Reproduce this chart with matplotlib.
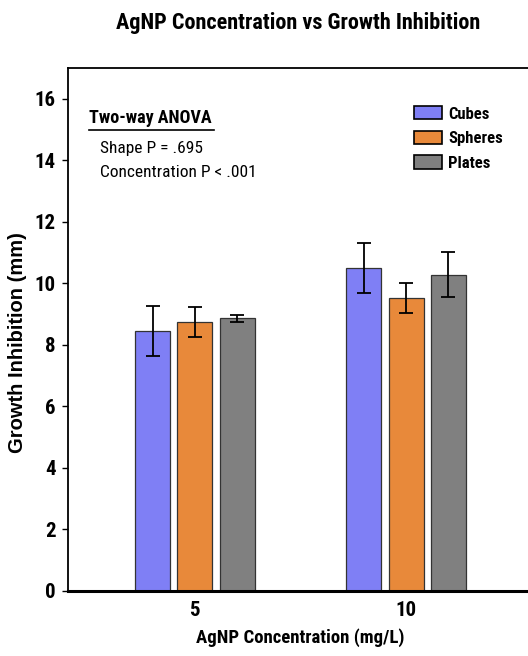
import matplotlib
matplotlib.use("Agg")
import matplotlib.pyplot as plt
import numpy as np

# Data
CONCENTRATIONS = ["5", "10"]
SHAPES = ["Cubes", "Spheres", "Plates"]
CUBES = [8.45, 10.50]
SPHERES = [8.74, 9.53]
PLATES = [8.86, 10.28]
CUBES_ERR = [0.80, 0.80]
SPHERES_ERR = [0.49, 0.49]
PLATES_ERR = [0.10, 0.73]

COLORS = ["#7f7ff5", "#e8893a", "#808080"]
NARROW = ["Roboto Condensed", "PT Sans Narrow", "DejaVu Sans"]

fig = plt.figure(figsize=(5.28, 6.56), dpi=100)
ax = fig.add_axes([68 / 528, 1 - 591 / 656, (533 - 68) / 528, (591 - 68) / 656])

x = np.arange(len(CONCENTRATIONS))
width = 0.166
step = 0.2
series = [(CUBES, CUBES_ERR), (SPHERES, SPHERES_ERR), (PLATES, PLATES_ERR)]
handles = []
for i, ((vals, errs), color, name) in enumerate(zip(series, COLORS, SHAPES)):
    b = ax.bar(x + (i - 1) * step, vals, width, color=color, edgecolor="#333333",
               linewidth=0.9, label=name, zorder=2)
    ax.errorbar(x + (i - 1) * step, vals, yerr=errs, fmt="none", ecolor="black",
                elinewidth=1.3, capsize=5, capthick=1.3, zorder=3)
    handles.append(b)

ax.set_xlim(-0.6, 1.6)
ax.set_ylim(0, 17)
ax.set_yticks(range(0, 17, 2))
ax.set_xticks(x)
ax.set_xticklabels(CONCENTRATIONS)
ax.tick_params(axis="x", length=0, pad=7)
ax.tick_params(axis="y", length=4, width=1, direction="out", pad=5)
for lab in ax.get_xticklabels() + ax.get_yticklabels():
    lab.set_fontfamily(NARROW)
    lab.set_fontsize(15)
    lab.set_fontweight("bold")

ax.spines["left"].set_linewidth(1.3)
ax.spines["top"].set_linewidth(1.3)
ax.spines["bottom"].set_linewidth(2.2)
ax.spines["right"].set_linewidth(1.3)

ax.set_xlabel("AgNP Concentration (mg/L)", family=NARROW, fontsize=13.5,
              fontweight="bold", labelpad=6)
fig.text(18 / 528, 1 - 343 / 656, "Growth Inhibition (mm)",
         family=["Liberation Sans", "DejaVu Sans"], fontsize=14.5,
         fontweight="bold", rotation=90, ha="center", va="center")
fig.text(298 / 528, 1 - 23 / 656, "AgNP Concentration vs Growth Inhibition",
         family=NARROW, fontsize=16, fontweight="bold", ha="center", va="center")

# ANOVA annotation
ax.text(0.045, 0.904, "Two-way ANOVA", transform=ax.transAxes, family=NARROW,
        fontsize=13, fontweight="bold", ha="left", va="center")
ax.plot([0.045, 0.314], [0.881, 0.881], transform=ax.transAxes, color="black",
        lw=1.2, clip_on=False)
ax.text(0.069, 0.847, "Shape P = .695", transform=ax.transAxes, family=NARROW,
        fontsize=12.5, ha="left", va="center")
ax.text(0.069, 0.801, "Concentration P < .001", transform=ax.transAxes,
        family=NARROW, fontsize=12.5, ha="left", va="center")

leg = ax.legend(handles=handles, loc="upper left", bbox_to_anchor=(0.744, 0.927),
                frameon=False, prop={"family": NARROW, "size": 12, "weight": "bold"},
                handlelength=1.7, handleheight=0.85, handletextpad=0.35,
                labelspacing=0.55, borderaxespad=0, borderpad=0)
for h in leg.legend_handles:
    h.set_edgecolor("black")
    h.set_linewidth(1.2)

fig.savefig("out.png", dpi=100)
